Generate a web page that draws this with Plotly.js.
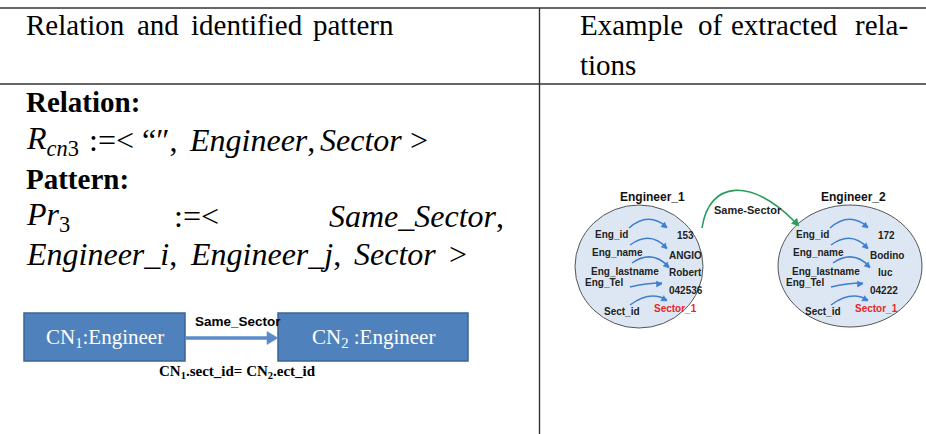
<!DOCTYPE html>
<html><head><meta charset="utf-8">
<script src="https://cdn.plot.ly/plotly-3.0.1.min.js"></script>
<style>html,body{margin:0;padding:0;background:#fff}#c{width:926px;height:434px}</style>
</head><body><div id="c"></div>
<script>
// ---- content (texts) ----
const headLeftWords = ['Relation', 'and', 'identified', 'pattern'];
const headRightWords = ['Example', 'of', 'extracted', 'rela-'];
const headRightLine2 = 'tions';
const relationLabel = 'Relation:';
const relationParts = ['<i>R</i><sub><i>cn</i>3</sub>', ':=&lt;', '“″,', '<i>Engineer</i>,', '<i>Sector</i>', '&gt;'];
const patternLabel = 'Pattern:';
const patternParts = ['<i>Pr</i><sub>3</sub>', ':=&lt;', '<i>Same</i>_<i>Sector</i>,'];
const patternLine2Parts = ['<i>Engineer</i>_<i>i</i>,', '<i>Engineer</i>_<i>j</i>,', '<i>Sector</i>', '&gt;'];
const boxLabels = ['CN<sub>1</sub>:Engineer', 'CN<sub>2</sub> :Engineer'];
const boxRelation = 'Same_Sector';
const boxCondition = 'CN<sub>1</sub>.sect_id= CN<sub>2</sub>.ect_id';
const entityNames = ['Engineer_1', 'Engineer_2'];
const fieldNames = ['Eng_id', 'Eng_name', 'Eng_lastname', 'Eng_Tel', 'Sect_id'];
const engineer1Values = ['153', 'ANGIO', 'Robert', '042536', 'Sector_1'];
const engineer2Values = ['172', 'Bodino', 'luc', '04222', 'Sector_1'];
const linkLabel = 'Same-Sector';

// ---- layout geometry (pixel coordinates on hidden axes) ----
const W = 926, H = 434;
const SERIF = 'Liberation Serif', SANS = 'Liberation Sans';
const headLeftX = [24, 135, 189, 311];
const headRightX = [578, 696, 729, 853];
const relationX = [24, 87, 140, 187, 318, 408];
const patternX = [24, 172, 327];
const pattern2X = [24, 188, 352, 447];
const lineY = [34, 74, 111, 150, 188, 226, 264]; // baselines
const F = 29, FM = 32;
const ann = [];
const shapes = [];
function txt(x, yBase, t, o) {
  o = o || {};
  const size = o.size || F;
  const yc = o.center !== undefined ? o.center : yBase - size * 0.3;
  ann.push({x: x, y: yc, xref: 'x', yref: 'y', text: t, showarrow: false,
    xanchor: o.anchor || 'left', yanchor: 'middle',
    font: {family: o.family || SERIF, size: size, color: o.color || '#000'}});
}
function head(tipX, tipY, ux, uy, len, half, color) {
  const L = Math.hypot(ux, uy); ux /= L; uy /= L;
  const bx = tipX - ux * len, by = tipY - uy * len;
  const nx = -uy, ny = ux;
  shapes.push({type: 'path', xref: 'x', yref: 'y',
    path: `M${tipX},${tipY} L${bx + nx * half},${by + ny * half} L${bx - nx * half},${by - ny * half} Z`,
    fillcolor: color, line: {color: color, width: 0.5}});
}
// header
headLeftWords.forEach((w, i) => txt(headLeftX[i], lineY[0], w));
headRightWords.forEach((w, i) => txt(headRightX[i], lineY[0], w));
txt(578, lineY[1], headRightLine2);
// left body
txt(24, lineY[2], '<b>' + relationLabel + '</b>');
relationParts.forEach((p, i) => txt(relationX[i], lineY[3], p, {size: FM}));
txt(24, lineY[4], '<b>' + patternLabel + '</b>');
patternParts.forEach((p, i) => txt(patternX[i], lineY[5], p, {size: FM}));
patternLine2Parts.forEach((p, i) => txt(pattern2X[i], lineY[6], p, {size: FM}));

// table rules
const rule = {color: '#333', width: 1.4};
shapes.push({type: 'line', xref: 'x', yref: 'y', x0: 0, x1: W, y0: 8, y1: 8, line: rule});
shapes.push({type: 'line', xref: 'x', yref: 'y', x0: 0, x1: W, y0: 84, y1: 84, line: rule});
shapes.push({type: 'line', xref: 'x', yref: 'y', x0: 539.5, x1: 539.5, y0: 8, y1: H, line: rule});

// concept boxes
const boxX = [[24, 185], [278, 468]];
boxX.forEach((b, i) => {
  shapes.push({type: 'rect', xref: 'x', yref: 'y', x0: b[0], x1: b[1], y0: 313, y1: 361,
    fillcolor: '#4f81bd', line: {color: '#3a6595', width: 1.5}});
  txt((b[0] + b[1]) / 2, 0, boxLabels[i], {anchor: 'center', size: 21, color: '#fff', center: 338});
});
shapes.push({type: 'line', xref: 'x', yref: 'y', x0: 186, x1: 268, y0: 338, y1: 338, line: {color: '#5a8bc8', width: 3.5}});
head(278, 338, 1, 0, 11, 6.5, '#5a8bc8');
txt(193, 0, '<b>' + boxRelation + '</b>', {family: SANS, size: 13.5, center: 321});
txt(157, 0, '<b>' + boxCondition + '</b>', {size: 15, center: 372});

// entity ellipses
const ell = [{cx: 639, cy: 266.5, rx: 64, ry: 61.5, dx: 0, vals: engineer1Values},
             {cx: 850, cy: 266, rx: 72, ry: 61, dx: 201, vals: engineer2Values}];
const fieldX = [593, 590, 589, 583, 602];
const fieldY = [234, 252, 271, 282, 311];
const valX = [675, 667, 667, 667, 652];
const valY = [235, 255, 272, 290, 308];
const curves = [[629, 228, 648, 211, 667, 227], [630, 245, 650, 230, 667, 248],
                [632, 263, 652, 249, 669, 267], [630, 287, 646, 283, 662, 283], [630, 305, 650, 290, 667, 300]];
const blue = '#3f7fcf';
ell.forEach((e, k) => {
  shapes.push({type: 'circle', xref: 'x', yref: 'y', x0: e.cx - e.rx, x1: e.cx + e.rx, y0: e.cy - e.ry, y1: e.cy + e.ry,
    fillcolor: '#dde7f3', line: {color: '#555', width: 1}});
  txt(k ? 853 : 652, 0, '<b>' + entityNames[k] + '</b>', {family: SANS, size: 12, anchor: 'center', color: '#111', center: 197});
  fieldNames.forEach((f, i) => txt(fieldX[i] + e.dx, 0, '<b>' + f + '</b>', {family: SANS, size: 10, color: '#222', center: fieldY[i]}));
  e.vals.forEach((v, i) => txt(valX[i] + e.dx + (k && i === 2 ? 8 : 0), 0, '<b>' + v + '</b>',
    {family: SANS, size: 10, color: i === 4 ? '#e8262a' : '#222', center: valY[i]}));
  curves.forEach(c => {
    const dx = e.dx;
    shapes.push({type: 'path', xref: 'x', yref: 'y',
      path: `M${c[0] + dx},${c[1]} Q${c[2] + dx},${c[3]} ${c[4] + dx},${c[5]}`, line: {color: blue, width: 1.5}});
    head(c[4] + dx, c[5] + 1, c[4] - c[2], c[5] - c[3], 5.5, 3, blue);
  });
});
// link between entities
const green = '#2e9b5b';
shapes.push({type: 'path', xref: 'x', yref: 'y', path: 'M702,228 C709,180 752,178 794,221', line: {color: green, width: 1.6}});
head(799, 226, 1, 1.05, 7, 3.8, green);
txt(712, 0, '<b>' + linkLabel + '</b>', {family: SANS, size: 11, color: '#222', center: 210});

const layout = {
  width: W, height: H, margin: {l: 0, r: 0, t: 0, b: 0}, paper_bgcolor: '#fff', plot_bgcolor: '#fff',
  xaxis: {range: [0, W], visible: false, fixedrange: true},
  yaxis: {range: [H, 0], visible: false, fixedrange: true},
  showlegend: false, shapes: shapes, annotations: ann
};
Plotly.newPlot('c', [{x: [], y: [], type: 'scatter'}], layout, {staticPlot: true, displayModeBar: false});
</script></body></html>
